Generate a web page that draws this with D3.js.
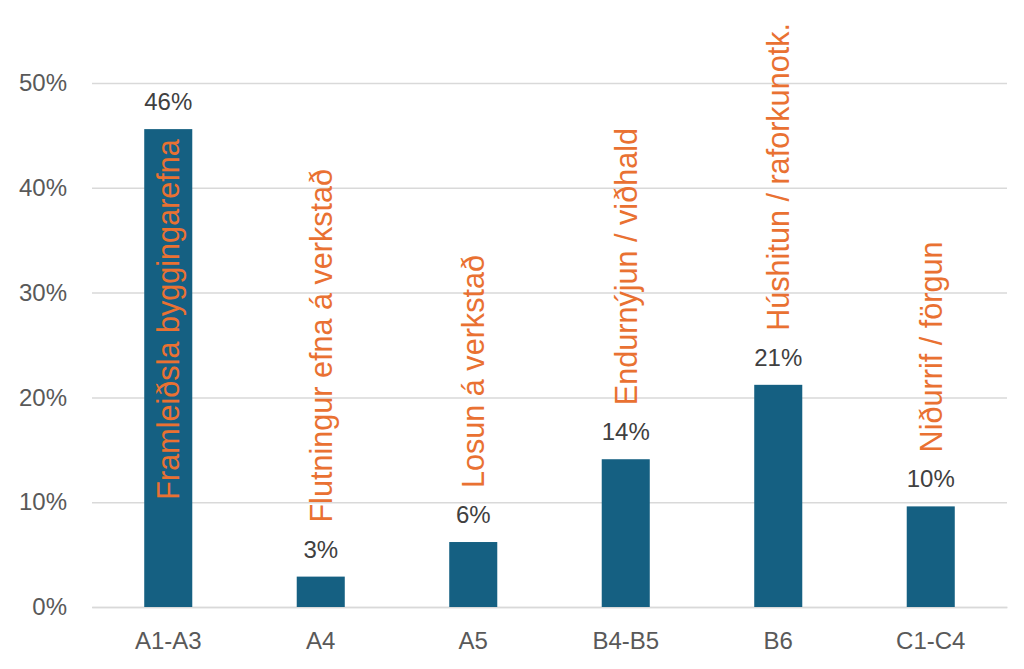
<!DOCTYPE html>
<html>
<head>
<meta charset="utf-8">
<script src="https://cdn.jsdelivr.net/npm/d3@7"></script>
<style>
  body { margin: 0; background: #fff; }
  svg { display: block; font-family: "Liberation Sans", Arial, sans-serif; }
</style>
</head>
<body>
<script>
const categories = ["A1-A3", "A4", "A5", "B4-B5", "B6", "C1-C4"];
const values = [0.456, 0.029, 0.062, 0.141, 0.212, 0.096];
const valueLabels = ["46%", "3%", "6%", "14%", "21%", "10%"];
const stageNames = [
  "Framleiðsla byggingarefna",
  "Flutningur efna á verkstað",
  "Losun á verkstað",
  "Endurnýjun / viðhald",
  "Húshitun / raforkunotk.",
  "Niðurrif / förgun"
];
const yTicks = [0, 0.1, 0.2, 0.3, 0.4, 0.5];

const width = 1024, height = 669;
const margin = { top: 83, right: 17, bottom: 62, left: 92 };

const svg = d3.select("body").append("svg")
  .attr("width", width)
  .attr("height", height);

const x = d3.scaleBand()
  .domain(categories)
  .range([margin.left, width - margin.right])
  .paddingInner(0.685)
  .paddingOuter(0.3425);

const y = d3.scaleLinear()
  .domain([0, 0.5])
  .range([height - margin.bottom, margin.top]);

// gridlines + y labels
const yAxis = svg.append("g")
  .attr("transform", `translate(${margin.left},0)`)
  .call(d3.axisLeft(y).tickValues(yTicks)
    .tickFormat(d3.format(".0%"))
    .tickSize(-(width - margin.left - margin.right))
    .tickPadding(25));
yAxis.select(".domain").remove();
yAxis.selectAll(".tick line").attr("stroke", "#d9d9d9").attr("stroke-width", 1.5);
yAxis.selectAll(".tick text")
  .attr("fill", "#595959")
  .attr("font-size", 24)
  .attr("font-family", "Liberation Sans, Arial, sans-serif");

// category axis
const xAxis = svg.append("g")
  .attr("transform", `translate(0,${y(0)})`)
  .call(d3.axisBottom(x).tickSize(0).tickPadding(25));
xAxis.select(".domain").attr("stroke", "#d9d9d9").attr("stroke-width", 1.5);
xAxis.selectAll(".tick text")
  .attr("fill", "#595959")
  .attr("font-size", 24)
  .attr("font-family", "Liberation Sans, Arial, sans-serif");

const data = categories.map((c, i) => ({
  cat: c, value: values[i], label: valueLabels[i], name: stageNames[i]
}));

svg.append("g").selectAll("rect")
  .data(data)
  .join("rect")
  .attr("x", d => x(d.cat))
  .attr("y", d => y(d.value))
  .attr("width", x.bandwidth())
  .attr("height", d => y(0) - y(d.value))
  .attr("fill", "#156082");

// value labels
svg.append("g").selectAll("text")
  .data(data)
  .join("text")
  .attr("x", d => x(d.cat) + x.bandwidth() / 2)
  .attr("y", d => y(d.value) - 19)
  .attr("text-anchor", "middle")
  .attr("font-size", 24)
  .attr("fill", "#404040")
  .text(d => d.label);

// rotated stage names; the tall first bar gets its name inside
svg.append("g").selectAll("text")
  .data(data)
  .join("text")
  .attr("transform", (d, i) => {
    const cx = x(d.cat) + x.bandwidth() / 2 + 11;
    const yy = i === 0 ? y(d.value) + 10 : y(d.value) - 54;
    return `translate(${cx},${yy}) rotate(-90)`;
  })
  .attr("text-anchor", (d, i) => i === 0 ? "end" : "start")
  .attr("font-size", 30.6)
  .attr("fill", "#E97132")
  .text(d => d.name);
</script>
</body>
</html>
